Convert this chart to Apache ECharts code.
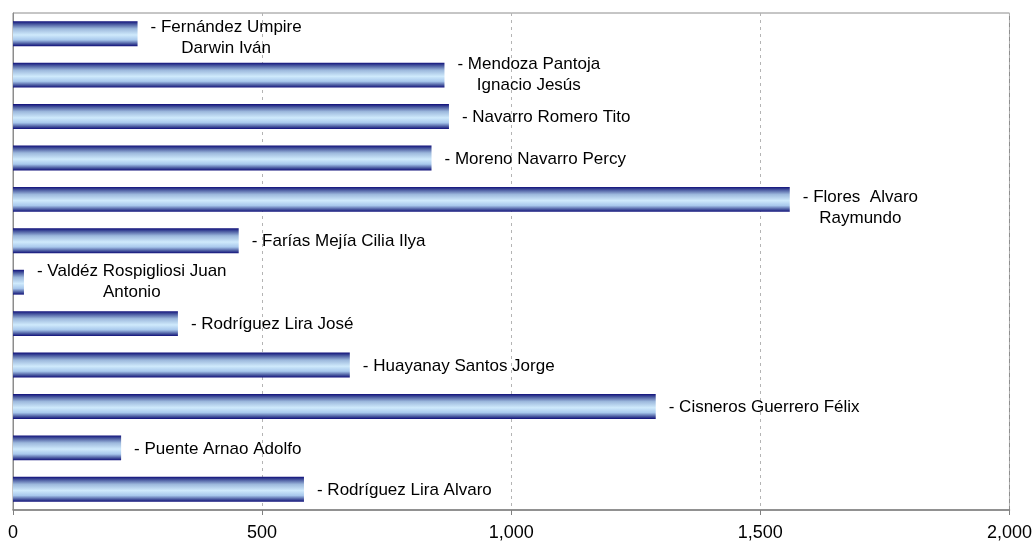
<!DOCTYPE html>
<html><head><meta charset="utf-8">
<script src="https://cdn.jsdelivr.net/npm/echarts@6/dist/echarts.min.js"></script>
<style>html,body{margin:0;padding:0;background:#fff}#c{width:1035px;height:544px}</style>
</head><body><div id="c"></div>
<script>
var categories = [
  "Fernández Umpire\nDarwin Iván",
  "Mendoza Pantoja\nIgnacio Jesús",
  "Navarro Romero Tito",
  "Moreno Navarro Percy",
  "Flores  Alvaro\nRaymundo",
  "Farías Mejía Cilia Ilya",
  "Valdéz Rospigliosi Juan\nAntonio",
  "Rodríguez Lira José",
  "Huayanay Santos Jorge",
  "Cisneros Guerrero Félix",
  "Puente Arnao Adolfo",
  "Rodríguez Lira Alvaro"
];
var values = [250, 866, 875, 840, 1559, 453, 22, 331, 676, 1290, 217, 584];
var xTicks = {min: 0, max: 2000, interval: 500};
var labelShift = [4, 0, 1, 1, 8, 1, 0, 1, 1, 1, 1, 1];

var barGradient = new echarts.graphic.LinearGradient(0, 0, 0, 1, [
  {offset: 0, color: '#10107a'},
  {offset: 0.12, color: '#4a5aa0'},
  {offset: 0.3, color: '#9cb8dc'},
  {offset: 0.55, color: '#cfeafc'},
  {offset: 0.75, color: '#a8c8ec'},
  {offset: 0.9, color: '#4a5aa0'},
  {offset: 1, color: '#10107a'}
]);

var chart = echarts.init(document.getElementById('c'), null, {renderer: 'canvas'});
chart.setOption({
  animation: false,
  backgroundColor: '#ffffff',
  grid: {left: 13, top: 13, right: 25, bottom: 34, show: true, borderColor: '#8c8c8c', borderWidth: 1, containLabel: false},
  xAxis: {
    type: 'value', min: xTicks.min, max: xTicks.max, interval: xTicks.interval,
    axisLine: {show: true, lineStyle: {color: '#808080', width: 1.5}},
    axisTick: {show: true, length: 5, lineStyle: {color: '#808080'}},
    axisLabel: {color: '#000', fontFamily: 'Liberation Sans, Arial', fontSize: 18, margin: 14},
    splitLine: {show: true, lineStyle: {color: '#b4b4b4', type: [3, 4], width: 1}}
  },
  yAxis: {
    type: 'category', data: categories, inverse: true,
    axisLine: {show: true, lineStyle: {color: '#8c8c8c'}},
    axisTick: {show: false}, axisLabel: {show: false}, splitLine: {show: false}
  },
  series: [{
    type: 'bar',
    data: values.map(function (v, i) {
      return {value: v, label: {offset: [0, labelShift[i]]}};
    }),
    barCategoryGap: '40%',
    itemStyle: {color: barGradient},
    label: {
      show: true, position: 'right', distance: 13,
      fontFamily: 'Liberation Sans, Arial', fontSize: 17, color: '#000',
      formatter: function (p) {
        var lines = categories[p.dataIndex].split('\n');
        lines[0] = '- ' + lines[0];
        return lines.map(function (l) { return '{c|' + l + '}'; }).join('\n');
      },
      rich: {c: {align: 'center', fontFamily: 'Liberation Sans, Arial', fontSize: 17, color: '#000', lineHeight: 21}}
    }
  }]
});
</script>
</body></html>
